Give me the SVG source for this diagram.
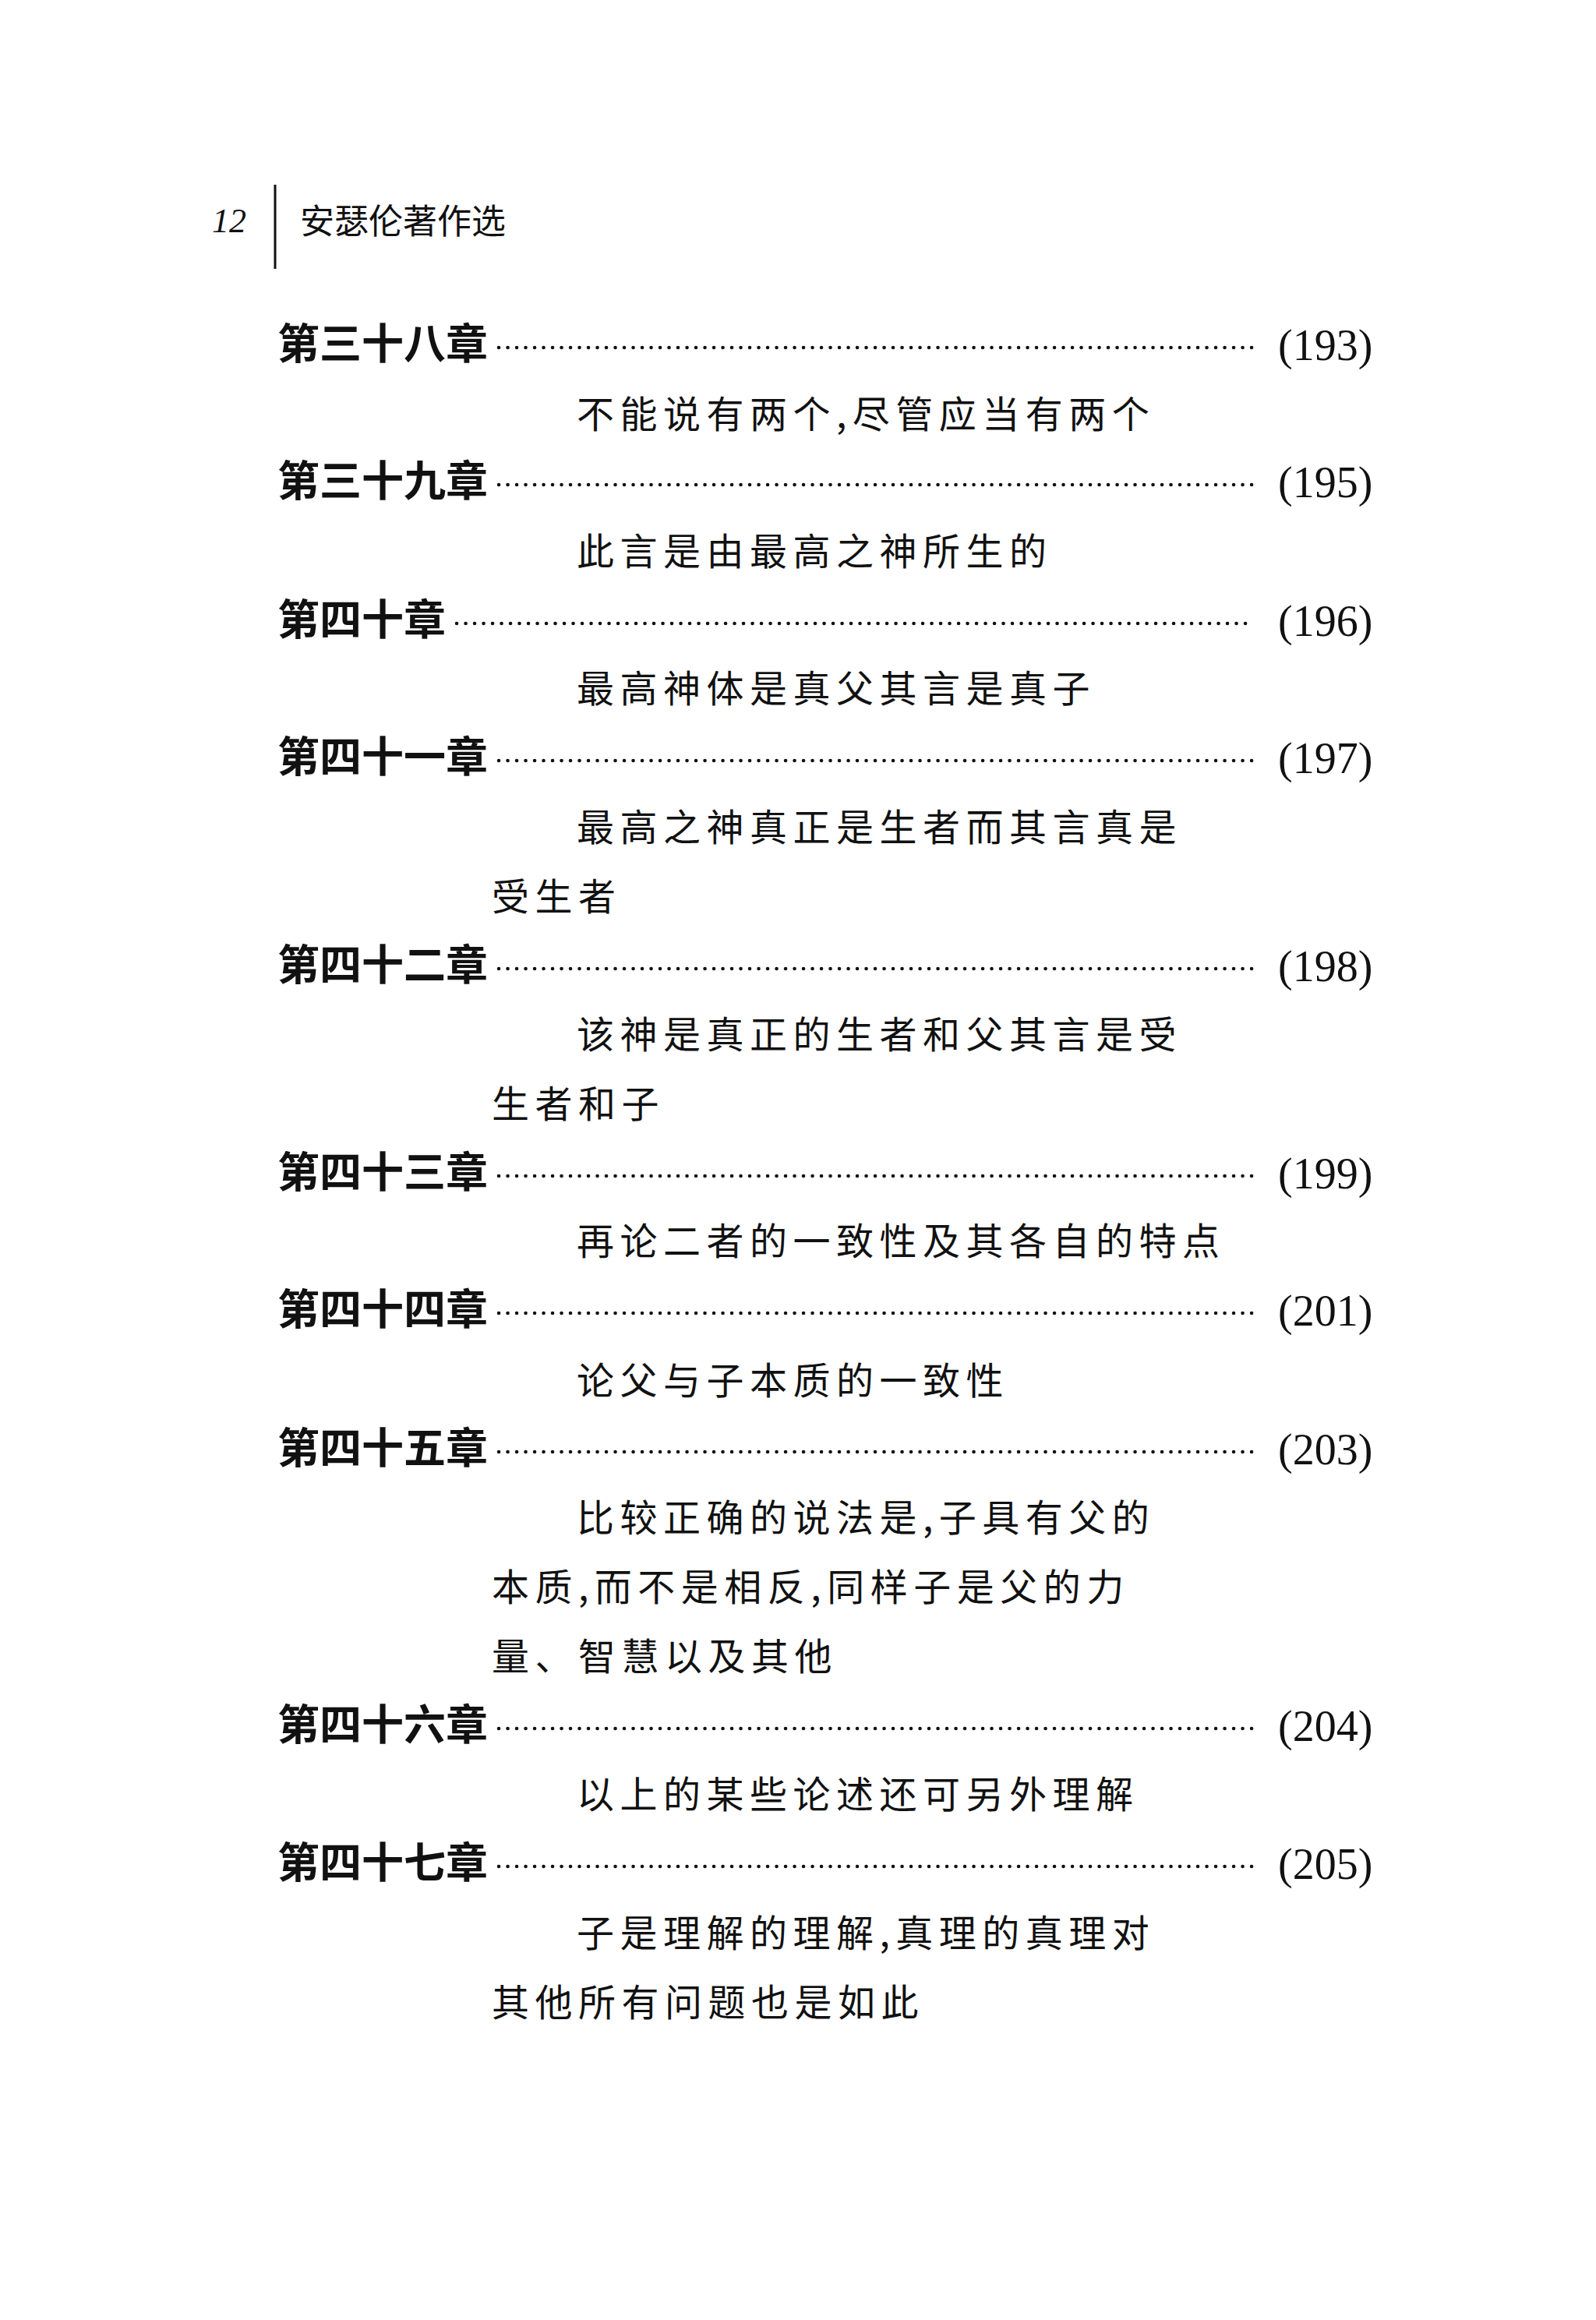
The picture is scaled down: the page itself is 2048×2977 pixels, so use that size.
<svg xmlns="http://www.w3.org/2000/svg" width="2048" height="2977" viewBox="0 0 2048 2977">
<style>
.h{font-family:"Noto Sans CJK SC",sans-serif;font-size:44px;fill:#111}
.c{font-family:"Noto Sans CJK SC",sans-serif;font-size:54px;font-weight:bold;fill:#111}
.s{font-family:"Noto Sans CJK SC",sans-serif;font-size:48px;letter-spacing:7.5px;fill:#111}
.p{font-family:"Liberation Serif",serif;font-size:56px;fill:#111}
.d{stroke:#111;stroke-width:4.5;stroke-dasharray:0.1 11.4;stroke-linecap:round}
</style>
<rect width="2048" height="2977" fill="#fff"/>
<text x="272" y="298" font-family="Liberation Serif,serif" font-style="italic" font-size="44" fill="#111">12</text>
<line x1="353" y1="237" x2="353" y2="345" stroke="#111" stroke-width="3"/>
<text class="h" x="385" y="300">安瑟伦著作选</text>
<g id="toc">
<text class="c" x="356" y="461">第三十八章</text><line class="d" x1="640" y1="446" x2="1608" y2="446"/><text class="p" x="1640" y="462">(193)</text>
<text class="s" x="740" y="549">不能说有两个,尽管应当有两个</text>
<text class="c" x="356" y="637">第三十九章</text><line class="d" x1="640" y1="622" x2="1608" y2="622"/><text class="p" x="1640" y="638">(195)</text>
<text class="s" x="740" y="725">此言是由最高之神所生的</text>
<text class="c" x="356" y="815">第四十章</text><line class="d" x1="586" y1="800" x2="1608" y2="800"/><text class="p" x="1640" y="816">(196)</text>
<text class="s" x="740" y="901">最高神体是真父其言是真子</text>
<text class="c" x="356" y="991">第四十一章</text><line class="d" x1="640" y1="976" x2="1608" y2="976"/><text class="p" x="1640" y="992">(197)</text>
<text class="s" x="740" y="1079">最高之神真正是生者而其言真是</text>
<text class="s" x="631" y="1168">受生者</text>
<text class="c" x="356" y="1258">第四十二章</text><line class="d" x1="640" y1="1243" x2="1608" y2="1243"/><text class="p" x="1640" y="1259">(198)</text>
<text class="s" x="740" y="1345">该神是真正的生者和父其言是受</text>
<text class="s" x="631" y="1434">生者和子</text>
<text class="c" x="356" y="1524">第四十三章</text><line class="d" x1="640" y1="1509" x2="1608" y2="1509"/><text class="p" x="1640" y="1525">(199)</text>
<text class="s" x="740" y="1610">再论二者的一致性及其各自的特点</text>
<text class="c" x="356" y="1700">第四十四章</text><line class="d" x1="640" y1="1685" x2="1608" y2="1685"/><text class="p" x="1640" y="1701">(201)</text>
<text class="s" x="740" y="1789">论父与子本质的一致性</text>
<text class="c" x="356" y="1878">第四十五章</text><line class="d" x1="640" y1="1863" x2="1608" y2="1863"/><text class="p" x="1640" y="1879">(203)</text>
<text class="s" x="740" y="1965">比较正确的说法是,子具有父的</text>
<text class="s" x="631" y="2054">本质,而不是相反,同样子是父的力</text>
<text class="s" x="631" y="2143">量、智慧以及其他</text>
<text class="c" x="356" y="2233">第四十六章</text><line class="d" x1="640" y1="2218" x2="1608" y2="2218"/><text class="p" x="1640" y="2234">(204)</text>
<text class="s" x="740" y="2320">以上的某些论述还可另外理解</text>
<text class="c" x="356" y="2410">第四十七章</text><line class="d" x1="640" y1="2395" x2="1608" y2="2395"/><text class="p" x="1640" y="2411">(205)</text>
<text class="s" x="740" y="2498">子是理解的理解,真理的真理对</text>
<text class="s" x="631" y="2587">其他所有问题也是如此</text>
</g>
</svg>
